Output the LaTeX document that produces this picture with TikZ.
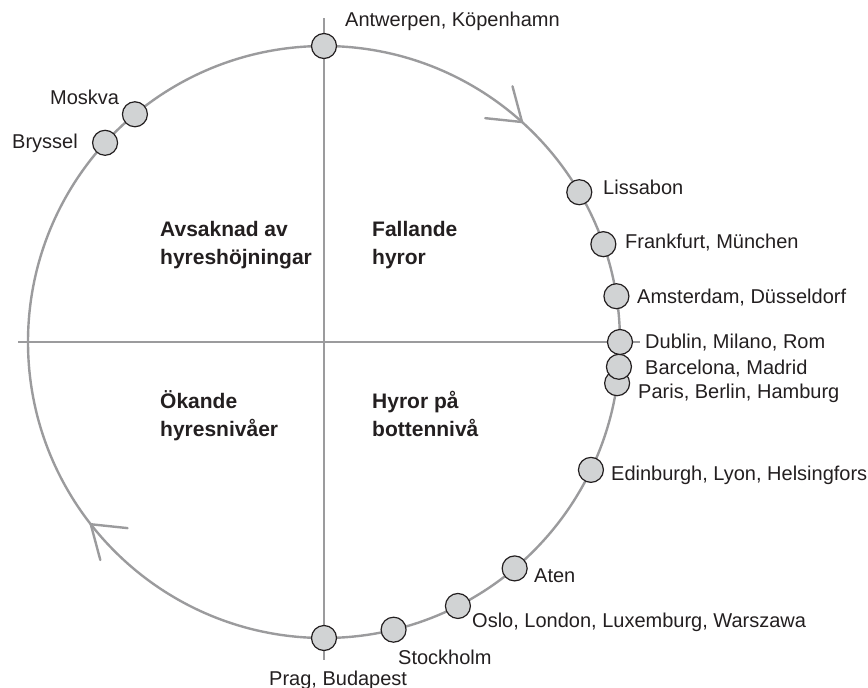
\documentclass[tikz,border=0pt]{standalone}
\usepackage{fontspec}
\setmainfont{Liberation Sans}
\usetikzlibrary{calc}
\definecolor{linegray}{HTML}{9B9B9D}
\definecolor{dotfill}{HTML}{D1D3D4}
\definecolor{ink}{HTML}{231F20}
\begin{document}
\begin{tikzpicture}[x=1pt,y=-1pt,
  axis/.style={draw=linegray,line width=2pt},
  ring/.style={draw=linegray,line width=2.4pt},
  chev/.style={draw=linegray,line width=2.4pt,line cap=round,line join=round},
  city/.style={circle,draw=ink,fill=dotfill,line width=1.2pt,minimum size=25pt,inner sep=0pt},
  lbl/.style={anchor=base west,inner sep=0pt,text=ink,font=\fontsize{20}{24}\selectfont},
  quad/.style={anchor=base west,inner sep=0pt,text=ink,align=left,font=\fontsize{21}{28}\selectfont\bfseries}]
\useasboundingbox (0,0) rectangle (868,688);
\coordinate (C) at (324,342);
\coordinate (vt) at (324,18);
\coordinate (vb) at (324,660);
\coordinate (hl) at (18,342);
\coordinate (hr) at (640,342);
\draw[axis] (vt) -- (vb);
\draw[axis] (hl) -- (hr);
\draw[ring] (C) circle[radius=296];
% direction arrows (angles negated: y axis points down)
\coordinate (t1) at ($(C)+(-48:296)$);
\draw[chev] ($(t1)+(-105:37)$) -- (t1) -- ($(t1)+(-174:37)$);
\coordinate (t2) at ($(C)+(-218:296)$);
\draw[chev] ($(t2)+(-285:37)$) -- (t2) -- ($(t2)+(-354:37)$);
% city dots
\node[city] (antw) at ($(C)+(-90:296)$) {};
\node[city] (mosk) at ($(C)+(-129.7:296)$) {};
\node[city] (brys) at ($(C)+(-137.7:296)$) {};
\node[city] (liss) at ($(C)+(-30.4:296)$) {};
\node[city] (frank) at ($(C)+(-19.3:296)$) {};
\node[city] (amst) at ($(C)+(-8.9:296)$) {};
\node[city] (pari) at ($(C)+(8.0:296)$) {};
\node[city] (barc) at ($(C)+(4.8:296)$) {};
\node[city] (dubl) at ($(C)+(0:296)$) {};
\node[city] (edin) at ($(C)+(25.6:296)$) {};
\node[city] (aten) at ($(C)+(49.9:296)$) {};
\node[city] (oslo) at ($(C)+(63.1:296)$) {};
\node[city] (stoc) at ($(C)+(76.4:296)$) {};
\node[city] (prag) at ($(C)+(90:296)$) {};
% labels
\node[lbl] (lantw) at (345,27) {Antwerpen, Köpenhamn};
\node[lbl] (lmosk) at (50,104) {Moskva};
\node[lbl] (lbrys) at (12,148) {Bryssel};
\node[lbl] (lliss) at (603,194) {Lissabon};
\node[lbl] (lfrank) at (625,248) {Frankfurt, München};
\node[lbl] (lamst) at (637,303) {Amsterdam, Düsseldorf};
\node[lbl] (ldubl) at (645,348) {Dublin, Milano, Rom};
\node[lbl] (lbarc) at (645,374) {Barcelona, Madrid};
\node[lbl] (lpari) at (638,398) {Paris, Berlin, Hamburg};
\node[lbl] (ledin) at (611,480) {Edinburgh, Lyon, Helsingfors};
\node[lbl] (laten) at (534,582) {Aten};
\node[lbl] (loslo) at (472,627) {Oslo, London, Luxemburg, Warszawa};
\node[lbl] (lstoc) at (398,664) {Stockholm};
\node[lbl] (lprag) at (269,685) {Prag, Budapest};
% quadrant labels (base = baseline of last line)
\node[quad] (q1) at (160,264) {Avsaknad av\\hyreshöjningar};
\node[quad] (q2) at (372,264) {Fallande\\hyror};
\node[quad] (q3) at (160,436) {Ökande\\hyresnivåer};
\node[quad] (q4) at (372,436) {Hyror på\\bottennivå};
\end{tikzpicture}
\end{document}
